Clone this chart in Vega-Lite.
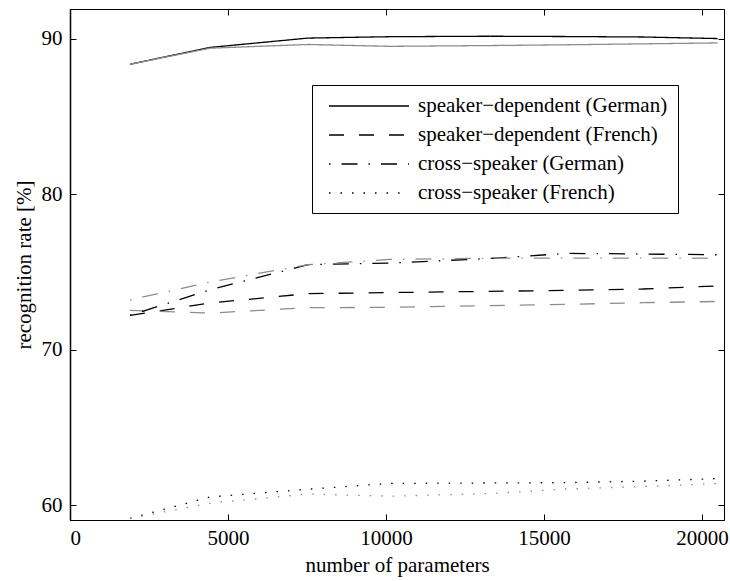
{
  "$schema": "https://vega.github.io/schema/vega-lite/v6.json",
  "width": 654,
  "height": 511,
  "autosize": {"type": "none"},
  "padding": {"left": 70, "top": 9, "right": 6, "bottom": 61},
  "background": "white",
  "config": {
    "view": {"stroke": "black", "strokeWidth": 1},
    "font": "Liberation Serif",
    "axis": {
      "grid": false,
      "domainColor": "black",
      "domainWidth": 1,
      "tickColor": "black",
      "tickWidth": 1,
      "tickSize": -6,
      "labelFont": "Liberation Serif",
      "labelFontSize": 21,
      "labelColor": "black",
      "titleFont": "Liberation Serif",
      "titleFontSize": 21,
      "titleFontWeight": "normal",
      "titleColor": "black"
    }
  },
  "data": {
    "values": [
      {"params": 1900, "rate": 88.35, "series": "speaker−dependent (German)", "variant": "black"},
      {"params": 4430, "rate": 89.43, "series": "speaker−dependent (German)", "variant": "black"},
      {"params": 7530, "rate": 90.03, "series": "speaker−dependent (German)", "variant": "black"},
      {"params": 10130, "rate": 90.12, "series": "speaker−dependent (German)", "variant": "black"},
      {"params": 13290, "rate": 90.15, "series": "speaker−dependent (German)", "variant": "black"},
      {"params": 15730, "rate": 90.13, "series": "speaker−dependent (German)", "variant": "black"},
      {"params": 18130, "rate": 90.1, "series": "speaker−dependent (German)", "variant": "black"},
      {"params": 20500, "rate": 90.0, "series": "speaker−dependent (German)", "variant": "black"},
      {"params": 1900, "rate": 88.35, "series": "speaker−dependent (German)", "variant": "gray"},
      {"params": 4430, "rate": 89.38, "series": "speaker−dependent (German)", "variant": "gray"},
      {"params": 7530, "rate": 89.62, "series": "speaker−dependent (German)", "variant": "gray"},
      {"params": 10130, "rate": 89.5, "series": "speaker−dependent (German)", "variant": "gray"},
      {"params": 13290, "rate": 89.55, "series": "speaker−dependent (German)", "variant": "gray"},
      {"params": 15730, "rate": 89.6, "series": "speaker−dependent (German)", "variant": "gray"},
      {"params": 18130, "rate": 89.66, "series": "speaker−dependent (German)", "variant": "gray"},
      {"params": 20500, "rate": 89.72, "series": "speaker−dependent (German)", "variant": "gray"},
      {"params": 1900, "rate": 72.2, "series": "speaker−dependent (French)", "variant": "black"},
      {"params": 4430, "rate": 73.0, "series": "speaker−dependent (French)", "variant": "black"},
      {"params": 7530, "rate": 73.6, "series": "speaker−dependent (French)", "variant": "black"},
      {"params": 10130, "rate": 73.67, "series": "speaker−dependent (French)", "variant": "black"},
      {"params": 13290, "rate": 73.75, "series": "speaker−dependent (French)", "variant": "black"},
      {"params": 15730, "rate": 73.81, "series": "speaker−dependent (French)", "variant": "black"},
      {"params": 18130, "rate": 73.9, "series": "speaker−dependent (French)", "variant": "black"},
      {"params": 20500, "rate": 74.1, "series": "speaker−dependent (French)", "variant": "black"},
      {"params": 1900, "rate": 72.52, "series": "speaker−dependent (French)", "variant": "gray"},
      {"params": 4430, "rate": 72.35, "series": "speaker−dependent (French)", "variant": "gray"},
      {"params": 7530, "rate": 72.7, "series": "speaker−dependent (French)", "variant": "gray"},
      {"params": 10130, "rate": 72.72, "series": "speaker−dependent (French)", "variant": "gray"},
      {"params": 13290, "rate": 72.83, "series": "speaker−dependent (French)", "variant": "gray"},
      {"params": 15730, "rate": 72.91, "series": "speaker−dependent (French)", "variant": "gray"},
      {"params": 18130, "rate": 73.02, "series": "speaker−dependent (French)", "variant": "gray"},
      {"params": 20500, "rate": 73.1, "series": "speaker−dependent (French)", "variant": "gray"},
      {"params": 1900, "rate": 72.2, "series": "cross−speaker (German)", "variant": "black"},
      {"params": 4430, "rate": 73.85, "series": "cross−speaker (German)", "variant": "black"},
      {"params": 7530, "rate": 75.46, "series": "cross−speaker (German)", "variant": "black"},
      {"params": 10130, "rate": 75.57, "series": "cross−speaker (German)", "variant": "black"},
      {"params": 13290, "rate": 75.86, "series": "cross−speaker (German)", "variant": "black"},
      {"params": 15730, "rate": 76.19, "series": "cross−speaker (German)", "variant": "black"},
      {"params": 18130, "rate": 76.15, "series": "cross−speaker (German)", "variant": "black"},
      {"params": 20500, "rate": 76.1, "series": "cross−speaker (German)", "variant": "black"},
      {"params": 1900, "rate": 73.2, "series": "cross−speaker (German)", "variant": "gray"},
      {"params": 4430, "rate": 74.35, "series": "cross−speaker (German)", "variant": "gray"},
      {"params": 7530, "rate": 75.46, "series": "cross−speaker (German)", "variant": "gray"},
      {"params": 10130, "rate": 75.8, "series": "cross−speaker (German)", "variant": "gray"},
      {"params": 13290, "rate": 75.88, "series": "cross−speaker (German)", "variant": "gray"},
      {"params": 15730, "rate": 75.88, "series": "cross−speaker (German)", "variant": "gray"},
      {"params": 18130, "rate": 75.88, "series": "cross−speaker (German)", "variant": "gray"},
      {"params": 20500, "rate": 75.88, "series": "cross−speaker (German)", "variant": "gray"},
      {"params": 1900, "rate": 59.15, "series": "cross−speaker (French)", "variant": "black"},
      {"params": 4430, "rate": 60.53, "series": "cross−speaker (French)", "variant": "black"},
      {"params": 7530, "rate": 61.03, "series": "cross−speaker (French)", "variant": "black"},
      {"params": 10130, "rate": 61.4, "series": "cross−speaker (French)", "variant": "black"},
      {"params": 13290, "rate": 61.43, "series": "cross−speaker (French)", "variant": "black"},
      {"params": 15730, "rate": 61.45, "series": "cross−speaker (French)", "variant": "black"},
      {"params": 18130, "rate": 61.55, "series": "cross−speaker (French)", "variant": "black"},
      {"params": 20500, "rate": 61.71, "series": "cross−speaker (French)", "variant": "black"},
      {"params": 1900, "rate": 59.15, "series": "cross−speaker (French)", "variant": "gray"},
      {"params": 4430, "rate": 60.13, "series": "cross−speaker (French)", "variant": "gray"},
      {"params": 7530, "rate": 60.72, "series": "cross−speaker (French)", "variant": "gray"},
      {"params": 10130, "rate": 60.58, "series": "cross−speaker (French)", "variant": "gray"},
      {"params": 13290, "rate": 60.75, "series": "cross−speaker (French)", "variant": "gray"},
      {"params": 15730, "rate": 61.05, "series": "cross−speaker (French)", "variant": "gray"},
      {"params": 18130, "rate": 61.2, "series": "cross−speaker (French)", "variant": "gray"},
      {"params": 20500, "rate": 61.39, "series": "cross−speaker (French)", "variant": "gray"}
    ]
  },
  "layer": [
    {
      "mark": {"type": "point", "opacity": 0},
      "encoding": {
        "x": {"field": "params", "type": "quantitative", "scale": {"domain": [0, 20700], "nice": false, "zero": false},
              "axis": {"orient": "top", "labels": false, "title": null, "values": [0, 5000, 10000, 15000, 20000], "domain": false}},
        "y": {"field": "rate", "type": "quantitative", "scale": {"domain": [59.05, 91.9], "nice": false, "zero": false},
              "axis": {"orient": "right", "labels": false, "title": null, "values": [60, 70, 80, 90], "domain": false}}
      }
    },
    {
      "mark": {"type": "line", "strokeWidth": 1.3, "interpolate": "linear"},
      "encoding": {
        "x": {"field": "params", "type": "quantitative",
              "axis": {"orient": "bottom", "title": "number of parameters", "values": [0, 5000, 10000, 15000, 20000], "format": "d", "labelPadding": 13, "titlePadding": 6}},
        "y": {"field": "rate", "type": "quantitative",
              "axis": {"orient": "left", "title": "recognition rate [%]", "values": [60, 70, 80, 90], "labelPadding": 14, "titlePadding": 7, "domainWidth": 1.5}},
        "color": {"field": "variant", "type": "nominal", "scale": {"domain": ["black", "gray"], "range": ["#000000", "#8c8c8c"]}, "legend": null},
        "strokeDash": {
          "field": "series", "type": "nominal",
          "scale": {
            "domain": ["speaker−dependent (German)", "speaker−dependent (French)", "cross−speaker (German)", "cross−speaker (French)"],
            "range": [[1, 0], [15, 15], [1.5, 11, 16, 11], [1.5, 10]]
          },
          "legend": {
            "title": null,
            "orient": "none",
            "legendX": 242,
            "legendY": 76,
            "padding": 10,
            "strokeColor": "black",
            "fillColor": "white",
            "symbolType": "M-4,0H4",
            "symbolSize": 400,
            "symbolOffset": 36,
            "symbolStrokeColor": "black",
            "symbolStrokeWidth": 1.3,
            "labelFont": "Liberation Serif",
            "labelFontSize": 21,
            "labelColor": "black",
            "labelOffset": 38,
            "rowPadding": 8,
            "labelLimit": 400
          }
        }
      }
    }
  ],
  "resolve": {"axis": {"x": "independent", "y": "independent"}}
}
